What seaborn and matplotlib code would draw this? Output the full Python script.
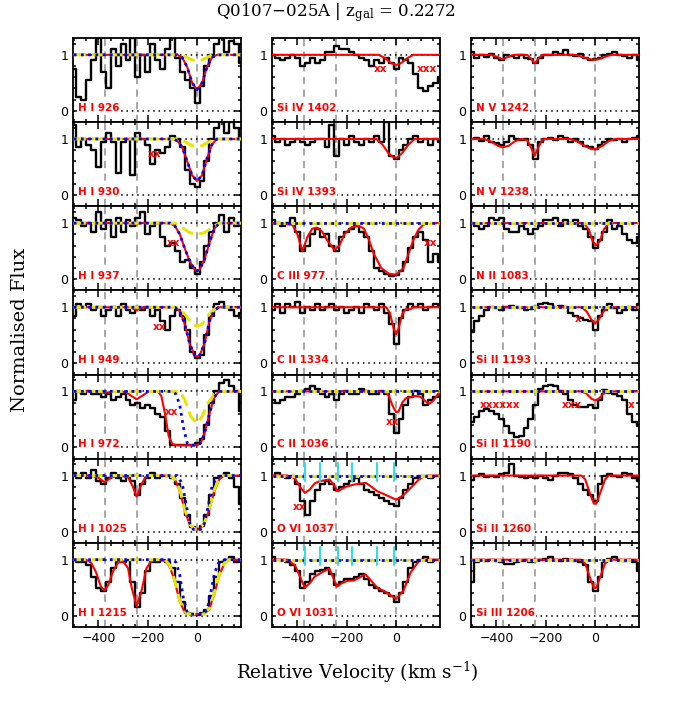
#!/usr/bin/env python3
"""Stacked absorption-line velocity plots for Q0107-025A (z_gal = 0.2272)."""

import matplotlib

matplotlib.use("Agg")

import matplotlib.pyplot as plt
import seaborn as sns
from matplotlib.ticker import MultipleLocator

# velocity bin centres (km/s) shared by every spectrum
VEL = list(range(-500, 181, 20))
XLIM = (-503, 178)
YLIM = (-0.2, 1.3)
COMPONENT_VELS = [-375, -245, 0]
OVI_TICKS = [-368, -309, -237, -179, -76, -9]

# ---- normalised flux, one value per bin in VEL ----
FLUX_HI926 = [0.75, 0.25, 0.2, 0.55, 0.9, 1.3, 0.7, 0.4, 1.1, 0.8, 1.2, 0.9, 1.3, 0.6, 1.0, 0.7, 1.2, 0.9,
              0.75, 1.1, 1.3, 0.95, 0.7, 0.55, 0.4, 0.15, 0.45, 0.8, 1.0, 1.2, 1.3, 1.05, 1.25, 1.2, 0.85]
FLUX_HI930 = [1.25, 0.85, 1.0, 0.9, 0.8, 0.5, 0.95, 1.1, 0.95, 0.4, 0.95, 1.0, 0.35, 1.1, 1.0, 0.9, 0.55, 0.8,
              0.75, 0.85, 1.05, 1.0, 0.85, 0.45, 0.2, 0.15, 0.25, 0.6, 1.0, 1.2, 1.3, 1.1, 1.3, 1.2, 1.0]
FLUX_HI937 = [1.1, 1.05, 0.95, 1.0, 0.85, 1.2, 0.9, 1.05, 0.75, 1.1, 0.85, 1.05, 0.95, 1.1, 1.2, 0.8, 0.95, 1.0,
              0.75, 0.6, 0.65, 0.5, 0.3, 0.35, 0.2, 0.1, 0.3, 0.6, 0.85, 1.0, 1.15, 0.85, 1.1, 0.95, 1.0]
FLUX_HI949 = [0.85, 1.05, 1.0, 1.05, 0.95, 1.0, 0.85, 0.95, 1.0, 0.85, 1.05, 0.95, 0.9, 1.0, 0.95, 1.0, 0.85, 0.95,
              0.75, 0.6, 0.85, 0.95, 0.85, 0.6, 0.2, 0.1, 0.15, 0.5, 0.85, 1.05, 1.1, 1.0, 0.95, 0.85, 0.9]
FLUX_HI972 = [0.85, 1.0, 0.95, 1.0, 0.95, 0.95, 0.9, 0.95, 0.85, 0.9, 0.95, 0.85, 0.75, 0.8, 0.7, 0.75, 0.7, 0.6,
              0.55, 0.3, 0.05, 0.05, 0.05, 0.05, 0.05, 0.08, 0.15, 0.4, 0.8, 1.0, 1.15, 1.2, 1.1, 1.0, 0.65]
FLUX_HI1025 = [1.05, 0.95, 1.05, 0.95, 1.1, 0.9, 0.85, 0.95, 1.05, 0.95, 0.9, 1.0, 0.9, 0.65, 0.85, 0.95, 1.05, 0.95,
               1.0, 1.0, 0.95, 0.85, 0.6, 0.3, 0.08, 0.05, 0.1, 0.3, 0.65, 0.95, 1.0, 1.05, 0.95, 0.8, 0.5]
FLUX_HI1215 = [1.0, 0.95, 0.95, 0.9, 0.7, 0.5, 0.45, 0.6, 0.85, 0.95, 0.95, 1.0, 0.6, 0.15, 0.4, 0.8, 0.95, 0.95,
               1.0, 0.95, 0.85, 0.6, 0.25, 0.05, 0.02, 0.02, 0.05, 0.1, 0.35, 0.7, 0.95, 1.0, 1.05, 0.95, 1.0]
FLUX_SIIV1402 = [1.0, 0.95, 0.9, 0.95, 1.0, 0.95, 0.8, 0.85, 0.95, 0.85, 0.9, 1.05, 1.05, 1.15, 1.1, 1.1, 1.05, 1.0,
                 0.95, 0.9, 0.8, 0.9, 0.85, 0.95, 0.85, 0.75, 0.95, 0.9, 0.85, 0.65, 0.4, 0.35, 0.45, 0.5, 0.6]
FLUX_SIIV1393 = [1.05, 0.95, 1.0, 0.9, 0.95, 1.0, 0.95, 0.9, 0.95, 1.0, 1.0, 0.85, 1.25, 0.7, 1.0, 0.9, 1.05, 0.95,
                 0.9, 1.0, 0.95, 1.05, 0.95, 1.3, 0.7, 0.65, 0.8, 0.9, 1.0, 1.05, 0.95, 1.0, 0.9, 1.0, 0.95]
FLUX_CIII977 = [1.05, 1.0, 0.95, 1.0, 1.1, 0.85, 0.5, 0.6, 0.8, 0.9, 0.75, 0.8, 0.6, 0.5, 0.75, 0.85, 0.9, 0.95,
                0.85, 0.75, 0.5, 0.2, 0.15, 0.1, 0.05, 0.08, 0.15, 0.3, 0.55, 0.75, 0.85, 0.7, 0.3, 0.45, 0.3]
FLUX_CII1334 = [0.95, 1.05, 0.9, 1.05, 1.0, 1.1, 0.9, 1.0, 0.95, 1.05, 0.95, 1.0, 1.05, 0.95, 1.0, 0.9, 0.95, 1.0,
                0.9, 1.05, 1.0, 0.95, 1.05, 0.9, 0.7, 0.35, 0.8, 0.95, 1.05, 1.0, 1.05, 0.95, 1.0, 1.05, 1.0]
FLUX_CII1036 = [0.85, 0.8, 0.85, 0.9, 0.9, 0.95, 1.0, 1.05, 1.1, 1.05, 0.95, 0.9, 0.95, 0.85, 0.95, 1.0, 0.95, 0.95,
                1.05, 1.0, 0.95, 0.95, 1.0, 0.95, 0.6, 0.25, 0.5, 0.75, 0.9, 1.0, 0.95, 0.75, 0.85, 0.9, 0.95]
FLUX_OVI1037 = [1.0, 1.05, 1.0, 0.95, 1.0, 0.85, 0.55, 0.3, 0.55, 0.75, 0.85, 0.9, 0.85, 0.75, 0.8, 0.85, 0.9, 0.95,
                0.85, 0.75, 0.7, 0.65, 0.6, 0.55, 0.5, 0.45, 0.6, 0.75, 0.85, 0.95, 1.0, 1.0, 0.95, 1.0, 1.0]
FLUX_OVI1031 = [1.05, 1.0, 1.0, 0.95, 0.9, 0.8, 0.5, 0.6, 0.75, 0.8, 0.82, 0.85, 0.75, 0.55, 0.6, 0.65, 0.65, 0.7,
                0.75, 0.65, 0.55, 0.5, 0.45, 0.4, 0.35, 0.25, 0.4, 0.6, 0.85, 0.95, 1.0, 1.05, 0.95, 1.0, 1.0]
FLUX_NV1242 = [1.05, 0.95, 1.0, 0.97, 1.02, 0.95, 0.9, 1.0, 0.98, 0.95, 1.0, 0.95, 0.92, 0.85, 0.95, 1.0, 1.0, 1.05,
               1.02, 1.08, 1.0, 0.98, 1.02, 0.95, 0.9, 0.92, 0.95, 1.0, 1.02, 1.05, 1.0, 0.98, 0.95, 1.0, 0.9]
FLUX_NV1238 = [1.0, 1.02, 0.97, 1.05, 0.95, 0.93, 0.9, 0.95, 1.05, 1.0, 0.98, 1.0, 0.9, 0.65, 0.95, 1.0, 1.02, 0.98,
               1.05, 1.02, 0.95, 1.0, 0.95, 0.88, 0.85, 0.82, 0.9, 0.95, 1.0, 0.98, 1.0, 0.95, 1.0, 1.02, 1.05]
FLUX_NII1083 = [1.0, 0.95, 0.9, 0.95, 1.1, 1.05, 1.1, 0.9, 0.85, 0.85, 0.95, 0.9, 0.8, 0.9, 0.95, 1.05, 1.05, 1.1,
                0.95, 1.05, 1.0, 1.05, 0.95, 0.9, 0.75, 0.55, 0.7, 0.85, 1.05, 0.9, 0.95, 0.8, 0.7, 0.65, 0.75]
FLUX_SIII1193 = [0.55, 0.75, 0.85, 0.95, 1.0, 0.98, 0.95, 1.0, 1.02, 1.0, 0.98, 0.95, 0.97, 1.0, 1.05, 1.08, 1.05, 1.0,
                 1.02, 1.0, 0.9, 0.85, 0.8, 0.78, 0.75, 0.6, 0.85, 0.95, 1.05, 0.98, 0.9, 0.95, 1.0, 0.95, 1.05]
FLUX_SIII1190 = [0.45, 0.55, 0.65, 0.68, 0.65, 0.6, 0.5, 0.38, 0.25, 0.18, 0.2, 0.35, 0.5, 0.75, 1.05, 1.1, 1.12, 1.1,
                 1.0, 0.95, 0.85, 0.75, 0.72, 0.72, 0.75, 0.7, 0.85, 1.02, 0.98, 0.95, 0.92, 0.85, 0.6, 0.45, 0.38]
FLUX_SIII1260 = [0.92, 1.0, 1.02, 0.98, 1.0, 0.97, 1.02, 1.05, 1.2, 1.0, 0.97, 0.95, 0.98, 0.95, 1.0, 0.95, 0.92, 1.0,
                 1.05, 1.05, 1.02, 0.95, 0.85, 0.75, 0.65, 0.55, 0.85, 1.0, 1.02, 1.0, 0.98, 1.05, 1.02, 0.95, 0.9]
FLUX_SIIII1206 = [0.6, 0.95, 1.0, 0.98, 1.0, 0.98, 0.95, 0.93, 0.92, 0.95, 0.97, 1.0, 0.95, 0.98, 1.0, 1.02, 1.05, 1.0,
                  0.98, 1.02, 1.0, 0.98, 0.95, 0.9, 0.6, 0.45, 0.7, 0.95, 1.02, 1.05, 1.0, 0.98, 1.0, 0.95, 0.8]

# ---- model profiles: {velocity: flux} knots, continuum (1) elsewhere ----
RED_HI926 = {-80: 1.0, -60: 0.95, -40: 0.78, -20: 0.5, 0: 0.38, 20: 0.5, 40: 0.78, 60: 0.95, 80: 1.0}
BLUE_HI926 = RED_HI926
YELLOW_HI926 = {-60: 1.0, -40: 0.95, -20: 0.91, 0: 0.9, 20: 0.91, 40: 0.95, 60: 1.0}

RED_HI930 = {-100: 1.0, -80: 0.97, -60: 0.85, -40: 0.6, -20: 0.35, 0: 0.25, 20: 0.35, 40: 0.65, 60: 0.9, 80: 1.0}
BLUE_HI930 = RED_HI930
YELLOW_HI930 = {-70: 1.0, -40: 0.93, -20: 0.88, 0: 0.87, 20: 0.88, 40: 0.93, 70: 1.0}

RED_HI937 = {-265: 1.0, -245: 0.98, -225: 1.0, -110: 1.0, -90: 0.95, -70: 0.8, -50: 0.55, -30: 0.32,
             -10: 0.17, 0: 0.15, 10: 0.17, 30: 0.35, 50: 0.65, 70: 0.9, 90: 1.0}
BLUE_HI937 = {-110: 1.0, -90: 0.95, -70: 0.8, -50: 0.55, -30: 0.32, -10: 0.17, 0: 0.15, 10: 0.17,
              30: 0.35, 50: 0.65, 70: 0.9, 90: 1.0}
YELLOW_HI937 = {-90: 1.0, -60: 0.92, -30: 0.83, 0: 0.8, 30: 0.83, 60: 0.92, 90: 1.0}

RED_HI949 = {-275: 1.0, -245: 0.95, -215: 1.0, -90: 1.0, -70: 0.93, -50: 0.7, -30: 0.35, -10: 0.14,
             0: 0.12, 10: 0.14, 30: 0.35, 50: 0.75, 70: 0.95, 90: 1.0}
BLUE_HI949 = {-90: 1.0, -70: 0.93, -50: 0.7, -30: 0.35, -10: 0.14, 0: 0.12, 10: 0.14, 30: 0.35,
              50: 0.75, 70: 0.95, 90: 1.0}
YELLOW_HI949 = {-80: 1.0, -50: 0.88, -20: 0.7, 0: 0.66, 20: 0.7, 50: 0.88, 80: 1.0}

RED_HI972 = {-410: 1.0, -375: 0.97, -340: 1.0, -290: 0.99, -270: 0.93, -245: 0.86, -220: 0.93, -195: 1.0,
             -160: 1.0, -145: 0.92, -130: 0.6, -115: 0.2, -100: 0.06, -80: 0.04, 0: 0.04, 15: 0.08,
             30: 0.25, 50: 0.6, 70: 0.9, 90: 1.0}
BLUE_HI972 = {-100: 1.0, -85: 0.95, -70: 0.75, -55: 0.35, -40: 0.08, -25: 0.04, 0: 0.04, 15: 0.08,
              30: 0.25, 50: 0.6, 70: 0.9, 90: 1.0}
YELLOW_HI972 = {-70: 1.0, -50: 0.85, -25: 0.55, 0: 0.43, 20: 0.55, 45: 0.8, 70: 0.95, 90: 1.0}

RED_HI1025 = {-430: 1.0, -400: 0.96, -375: 0.88, -350: 0.96, -320: 1.0, -280: 0.97, -260: 0.8, -245: 0.62,
              -230: 0.8, -210: 0.97, -190: 1.0, -110: 1.0, -90: 0.93, -70: 0.72, -50: 0.38, -30: 0.12,
              -10: 0.04, 10: 0.04, 30: 0.15, 50: 0.4, 70: 0.72, 90: 0.93, 110: 1.0}
BLUE_HI1025 = {-80: 1.0, -60: 0.85, -45: 0.5, -30: 0.15, -15: 0.04, 15: 0.04, 30: 0.15, 45: 0.45,
               60: 0.8, 80: 0.97, 100: 1.0}
YELLOW_HI1025 = {-110: 1.0, -90: 0.94, -70: 0.75, -50: 0.4, -30: 0.13, -10: 0.05, 10: 0.05, 30: 0.16,
                 50: 0.42, 70: 0.75, 90: 0.95, 110: 1.0}

RED_HI1215 = {-450: 1.0, -430: 0.95, -410: 0.78, -390: 0.52, -375: 0.45, -360: 0.55, -340: 0.8, -320: 0.95,
              -300: 0.97, -280: 0.85, -265: 0.5, -245: 0.17, -225: 0.45, -205: 0.85, -185: 0.98, -160: 1.0,
              -130: 0.98, -110: 0.88, -90: 0.6, -70: 0.25, -50: 0.06, -30: 0.03, 30: 0.03, 50: 0.12,
              70: 0.4, 90: 0.72, 110: 0.93, 130: 1.0}
BLUE_HI1215 = {-100: 1.0, -85: 0.95, -70: 0.72, -55: 0.3, -40: 0.06, -25: 0.03, 25: 0.03, 40: 0.1,
               55: 0.4, 70: 0.75, 85: 0.93, 105: 1.0}
YELLOW_HI1215 = {-130: 1.0, -110: 0.9, -90: 0.62, -70: 0.27, -50: 0.07, -30: 0.03, 30: 0.03, 50: 0.13,
                 70: 0.42, 90: 0.74, 110: 0.94, 130: 1.0}

RED_SIIV1402 = {-70: 1.0, -45: 0.94, -20: 0.85, 0: 0.82, 20: 0.85, 45: 0.94, 70: 1.0}
RED_SIIV1393 = {-80: 1.0, -55: 0.9, -30: 0.74, -10: 0.67, 5: 0.67, 25: 0.75, 50: 0.9, 75: 1.0}
RED_CIII977 = {-420: 0.97, -400: 0.8, -380: 0.5, -360: 0.75, -340: 0.9, -320: 0.92, -300: 0.85,
               -280: 0.7, -250: 0.52, -230: 0.6, -210: 0.8, -180: 0.93, -150: 0.95, -130: 0.9,
               -110: 0.7, -90: 0.45, -60: 0.2, -30: 0.1, 0: 0.08, 30: 0.2, 50: 0.45, 70: 0.7,
               90: 0.88, 110: 0.97, 130: 1.0}
RED_CII1334 = {-40: 1.0, -25: 0.9, -10: 0.62, 0: 0.52, 10: 0.62, 25: 0.88, 40: 0.97, 55: 0.96, 70: 1.0}
RED_CII1036 = {-50: 1.0, -30: 0.93, -15: 0.75, 0: 0.63, 10: 0.64, 25: 0.8, 40: 0.88, 60: 0.9, 80: 0.92,
               100: 0.9, 120: 0.82, 135: 0.78, 150: 0.83, 170: 0.95, 180: 0.97}
RED_OVI1037 = {-440: 1.0, -410: 0.95, -390: 0.8, -370: 0.69, -350: 0.75, -330: 0.86, -310: 0.9,
               -270: 0.93, -255: 0.85, -237: 0.72, -220: 0.76, -203: 0.8, -170: 0.84, -123: 0.87,
               -100: 0.8, -76: 0.72, -40: 0.65, 0: 0.57, 30: 0.65, 64: 0.8, 90: 0.92, 110: 0.98, 130: 1.0}
RED_OVI1031 = {-440: 1.0, -410: 0.9, -390: 0.7, -370: 0.5, -350: 0.58, -330: 0.7, -310: 0.75,
               -290: 0.8, -270: 0.84, -255: 0.68, -240: 0.52, -220: 0.58, -200: 0.62, -170: 0.63,
               -125: 0.74, -100: 0.62, -76: 0.5, -40: 0.42, 0: 0.3, 30: 0.45, 60: 0.78, 90: 0.96, 110: 1.0}
RED_NV1242 = {-420: 1.0, -395: 0.96, -375: 0.92, -355: 0.96, -330: 1.0, -275: 1.0, -260: 0.93, -245: 0.85,
              -230: 0.93, -215: 1.0, -80: 1.0, -50: 0.96, -20: 0.92, 0: 0.91, 20: 0.93, 50: 0.98, 70: 1.0}
RED_NV1238 = {-450: 1.0, -420: 0.95, -395: 0.88, -375: 0.85, -350: 0.88, -325: 0.96, -300: 1.0,
              -275: 0.98, -260: 0.85, -245: 0.7, -230: 0.85, -215: 0.98, -200: 1.0, -100: 1.0,
              -70: 0.95, -40: 0.87, -15: 0.82, 5: 0.82, 30: 0.88, 55: 0.96, 80: 1.0}
RED_NII1083 = {-45: 1.0, -25: 0.88, -10: 0.68, 5: 0.6, 20: 0.68, 35: 0.88, 55: 1.0}
RED_SIII1193 = {-55: 1.0, -35: 0.93, -15: 0.78, 0: 0.71, 15: 0.78, 35: 0.93, 55: 1.0}
RED_SIII1190 = {-55: 1.0, -35: 0.96, -15: 0.87, 0: 0.84, 15: 0.87, 35: 0.96, 55: 1.0}
RED_SIII1260 = {-55: 1.0, -40: 0.93, -20: 0.67, -5: 0.5, 5: 0.5, 20: 0.68, 40: 0.93, 55: 1.0}
RED_SIIII1206 = {-55: 1.0, -40: 0.93, -20: 0.67, -5: 0.5, 5: 0.5, 20: 0.68, 40: 0.93, 55: 1.0}
FLAT = {}

# contamination flags: (panel label, velocity, flux, text)
FLAGS = [
    ("H I 930", -171, 0.74, "xx"), ("H I 937", -95, 0.64, "xx"), ("H I 949", -151, 0.65, "xx"),
    ("H I 972", -104, 0.64, "xx"), ("Si IV 1402", -62, 0.75, "xx"), ("Si IV 1402", 125, 0.75, "xxx"),
    ("C III 977", 138, 0.64, "xx"), ("C II 1036", -16, 0.46, "xx"), ("O VI 1037", -391, 0.44, "xx"),
    ("Si II 1193", -70, 0.79, "x"), ("Si II 1190", -385, 0.75, "xxxxxx"), ("Si II 1190", -94, 0.75, "xxx"),
    ("Si II 1190", 147, 0.75, "x"),
]

# columns top to bottom: (label, flux, red, blue, yellow)
COLUMNS = [
    [("H I 926", FLUX_HI926, RED_HI926, BLUE_HI926, YELLOW_HI926),
     ("H I 930", FLUX_HI930, RED_HI930, BLUE_HI930, YELLOW_HI930),
     ("H I 937", FLUX_HI937, RED_HI937, BLUE_HI937, YELLOW_HI937),
     ("H I 949", FLUX_HI949, RED_HI949, BLUE_HI949, YELLOW_HI949),
     ("H I 972", FLUX_HI972, RED_HI972, BLUE_HI972, YELLOW_HI972),
     ("H I 1025", FLUX_HI1025, RED_HI1025, BLUE_HI1025, YELLOW_HI1025),
     ("H I 1215", FLUX_HI1215, RED_HI1215, BLUE_HI1215, YELLOW_HI1215)],
    [("Si IV 1402", FLUX_SIIV1402, RED_SIIV1402, None, None),
     ("Si IV 1393", FLUX_SIIV1393, RED_SIIV1393, None, None),
     ("C III 977", FLUX_CIII977, RED_CIII977, FLAT, FLAT),
     ("C II 1334", FLUX_CII1334, RED_CII1334, None, None),
     ("C II 1036", FLUX_CII1036, RED_CII1036, FLAT, FLAT),
     ("O VI 1037", FLUX_OVI1037, RED_OVI1037, FLAT, FLAT),
     ("O VI 1031", FLUX_OVI1031, RED_OVI1031, FLAT, FLAT)],
    [("N V 1242", FLUX_NV1242, RED_NV1242, None, None),
     ("N V 1238", FLUX_NV1238, RED_NV1238, None, None),
     ("N II 1083", FLUX_NII1083, RED_NII1083, FLAT, FLAT),
     ("Si II 1193", FLUX_SIII1193, RED_SIII1193, FLAT, FLAT),
     ("Si II 1190", FLUX_SIII1190, RED_SIII1190, FLAT, FLAT),
     ("Si II 1260", FLUX_SIII1260, RED_SIII1260, None, None),
     ("Si III 1206", FLUX_SIIII1206, RED_SIIII1206, FLAT, FLAT)],
]

FIG_W, FIG_H = 676, 703
COL_LEFT_PX = [73, 272, 471]
COL_WIDTH_PX = 168
TOP_PX, BOTTOM_PX = 38, 627


def knots(model):
    xs = sorted(model)
    ys = [model[v] for v in xs]
    if not xs or xs[0] > VEL[0]:
        xs, ys = [VEL[0]] + xs, [1.0] + ys
    if xs[-1] < VEL[-1]:
        xs, ys = xs + [VEL[-1]], ys + [1.0]
    return xs, ys


def draw_panel(ax, label, flux, red, blue, yellow, bottom_row):
    for v in COMPONENT_VELS:
        ax.axvline(v, color="#a0a0a0", lw=1.3, dashes=(4, 3), zorder=0.5)
    for level in (0, 1):
        ax.axhline(level, color="black", lw=1.1, ls=(0, (1, 2.5)), zorder=1)

    sns.lineplot(x=VEL, y=flux, drawstyle="steps-mid", color="black", lw=1.7, ax=ax, zorder=2)
    if red is not None:
        x, y = knots(red)
        sns.lineplot(x=x, y=y, color="red", lw=1.5, ax=ax, zorder=3)
    if yellow is not None:
        x, y = knots(yellow)
        sns.lineplot(x=x, y=y, color="#e6e600", lw=2.2, ls=(0, (4, 2)), ax=ax, zorder=4)
    if blue is not None:
        x, y = knots(blue)
        sns.lineplot(x=x, y=y, color="blue", lw=2.0, ls=(0, (1, 1.6)), ax=ax, zorder=5)

    if label.startswith("O VI"):
        for v in OVI_TICKS:
            ax.plot([v, v], [0.9, 1.22], color="#33dde8", lw=1.5, zorder=6)

    ax.text(-482, 0.0, label, color="red", fontsize=7.5, fontweight="bold", va="baseline",
            zorder=7, bbox=dict(facecolor="white", edgecolor="none", pad=0.6))
    for name, v, f, text in FLAGS:
        if name == label:
            ax.text(v, f, text, color="red", fontsize=7.5, fontweight="bold",
                    ha="center", va="center", zorder=7)

    ax.set_xlim(*XLIM)
    ax.set_ylim(*YLIM)
    ax.set_xticks([-400, -200, 0])
    ax.xaxis.set_minor_locator(MultipleLocator(50))
    ax.set_yticks([0, 1])
    ax.set_yticklabels(["0", "1"])
    ax.yaxis.set_minor_locator(MultipleLocator(0.2))
    ax.tick_params(which="both", direction="in", top=True, right=True, width=1.1,
                   labelsize=9, color="black", labelcolor="black")
    ax.tick_params(which="major", length=5)
    ax.tick_params(which="minor", length=2.5)
    if not bottom_row:
        ax.set_xticklabels([])
    ax.set_xlabel("")
    ax.set_ylabel("")
    for spine in ax.spines.values():
        spine.set_linewidth(1.3)
        spine.set_color("black")
        spine.set_visible(True)


def main():
    sns.set_style("ticks")
    plt.rcParams["font.family"] = ["DejaVu Sans"]
    plt.rcParams["mathtext.fontset"] = "dejavuserif"

    fig = plt.figure(figsize=(FIG_W / 100, FIG_H / 100), dpi=100)
    row_h = (BOTTOM_PX - TOP_PX) / 7
    for c, column in enumerate(COLUMNS):
        for r, (label, flux, red, blue, yellow) in enumerate(column):
            top = TOP_PX + r * row_h
            ax = fig.add_axes([COL_LEFT_PX[c] / FIG_W, 1 - (top + row_h) / FIG_H,
                               COL_WIDTH_PX / FIG_W, row_h / FIG_H])
            draw_panel(ax, label, flux, red, blue, yellow, r == 6)

    fig.text(0.497, 0.982, r"Q0107$-$025A | z$_{\rm gal}$ = 0.2272", ha="center", va="center",
             fontsize=12, family="DejaVu Serif", color="black")
    fig.text(0.03, 0.531, "Normalised Flux", rotation=90, ha="center", va="center",
             fontsize=14, family="DejaVu Serif", color="black")
    fig.text(0.528, 0.043, r"Relative Velocity (km s$^{-1}$)", ha="center", va="center",
             fontsize=13.3, family="DejaVu Serif", color="black")
    fig.savefig("out.png", dpi=100)
    plt.close(fig)


if __name__ == "__main__":
    main()
